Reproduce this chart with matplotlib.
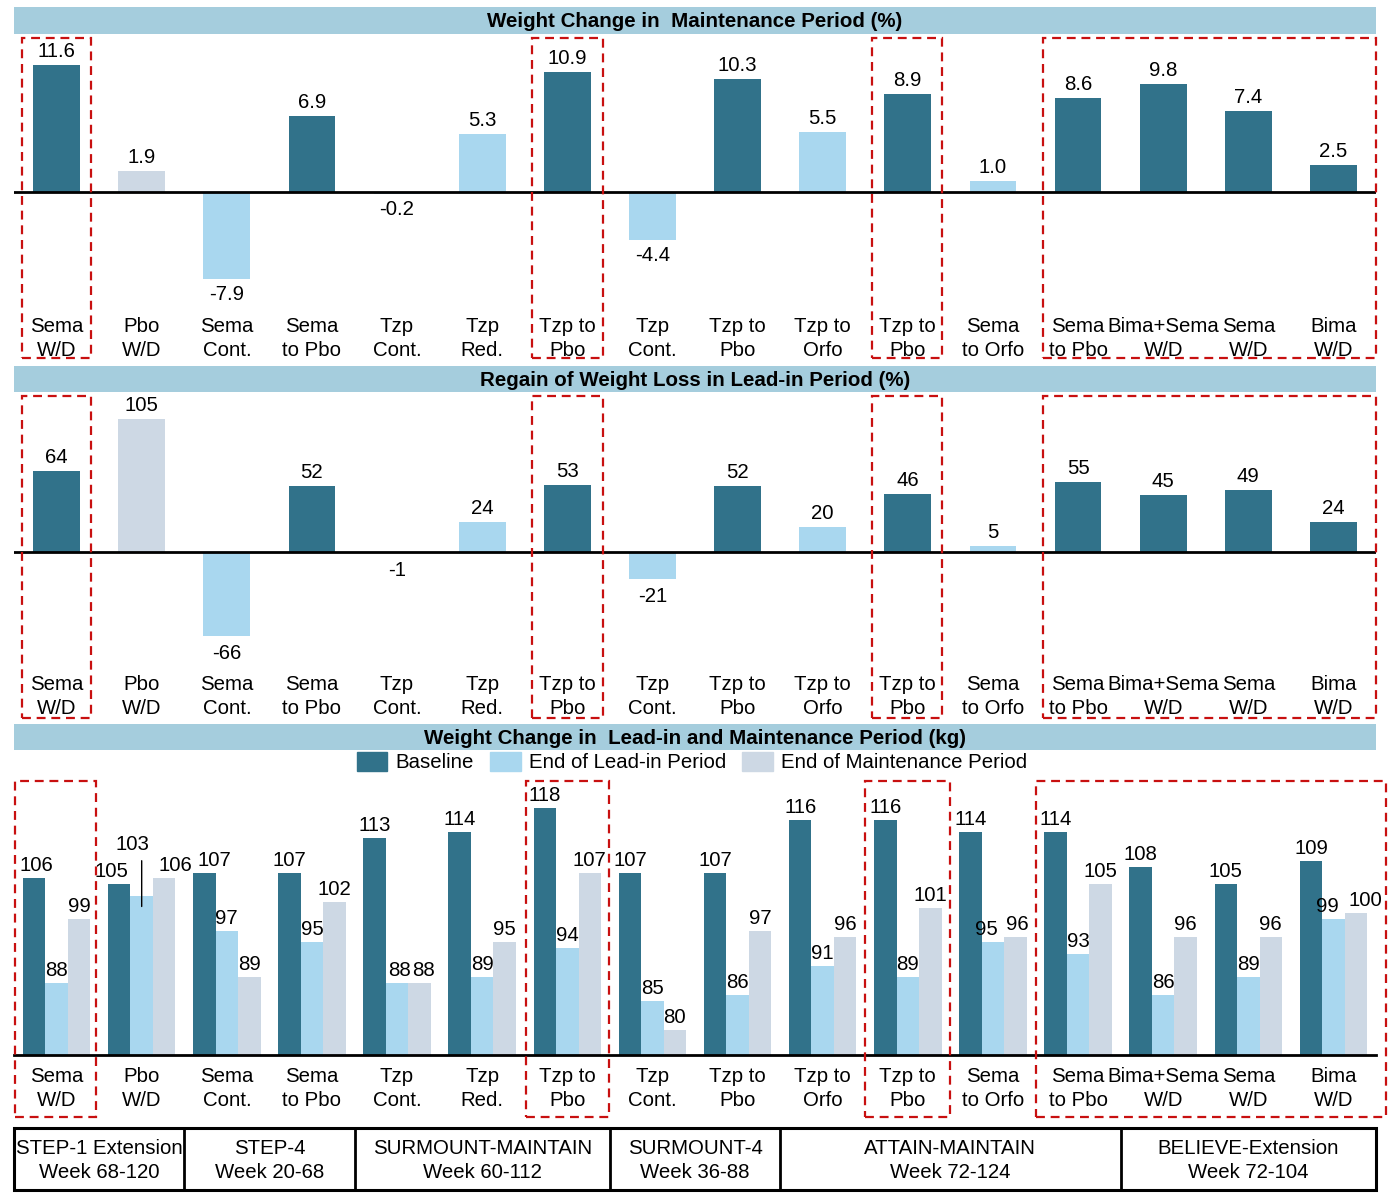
import numpy as np
import matplotlib.pyplot as plt
from matplotlib.patches import Rectangle, Patch
from matplotlib.lines import Line2D
from matplotlib.transforms import blended_transform_factory

# ---- data ----
arms = ["Sema\nW/D", "Pbo\nW/D", "Sema\nCont.", "Sema\nto Pbo", "Tzp\nCont.", "Tzp\nRed.",
        "Tzp to\nPbo", "Tzp\nCont.", "Tzp to\nPbo", "Tzp to\nOrfo", "Tzp to\nPbo",
        "Sema\nto Orfo", "Sema\nto Pbo", "Bima+Sema\nW/D", "Sema\nW/D", "Bima\nW/D"]
# bar colour class per arm: 0 = withdrawal (dark), 1 = continued (light), 2 = placebo (grey)
arm_kind = [0, 2, 1, 0, 1, 1, 0, 1, 0, 1, 0, 1, 0, 0, 0, 0]

wt_change_maint = [11.6, 1.9, -7.9, 6.9, -0.2, 5.3, 10.9, -4.4, 10.3, 5.5, 8.9, 1.0, 8.6, 9.8, 7.4, 2.5]
regain_pct = [64, 105, -66, 52, -1, 24, 53, -21, 52, 20, 46, 5, 55, 45, 49, 24]

wt_baseline = [106, 105, 107, 107, 113, 114, 118, 107, 107, 116, 116, 114, 114, 108, 105, 109]
wt_leadin = [88, 103, 97, 95, 88, 89, 94, 85, 86, 91, 89, 95, 93, 86, 89, 99]
wt_maint = [99, 106, 89, 102, 88, 95, 107, 80, 97, 96, 101, 96, 105, 96, 96, 100]

trials = ["STEP-1 Extension", "STEP-4", "SURMOUNT-MAINTAIN", "SURMOUNT-4", "ATTAIN-MAINTAIN", "BELIEVE-Extension"]
trial_weeks = ["Week 68-120", "Week 20-68", "Week 60-112", "Week 36-88", "Week 72-124", "Week 72-104"]
trial_n_arms = [2, 2, 3, 2, 4, 3]

# highlighted groups (first arm, last arm)
boxes = [(0, 0), (6, 6), (10, 10), (12, 15)]

# ---- style ----
DARK = '#31728A'
LIGHT = '#A9D7EF'
GREY = '#CDD8E4'
BAND = '#A5CDDD'
RED = '#C81010'
kind_color = [DARK, LIGHT, GREY]
FONT = 'Liberation Sans'
FS = 14.7

plt.rcParams['font.family'] = [FONT, 'DejaVu Sans']

W, H = 1390, 1196
fig = plt.figure(figsize=(W / 100, H / 100), dpi=100)


def px_axes(x0, y0, x1, y1):
    return fig.add_axes([x0 / W, 1 - y1 / H, (x1 - x0) / W, (y1 - y0) / H])


def fy(ypx):
    return 1 - ypx / H


X0, X1 = 14, 1376
n = len(arms)
x = np.arange(n)


def band(y0, y1, text):
    fig.add_artist(Rectangle((X0 / W, fy(y1)), (X1 - X0) / W, (y1 - y0) / H,
                             transform=fig.transFigure, color=BAND, lw=0))
    fig.text((X0 + X1) / 2 / W, fy((y0 + y1) / 2 + 1), text, ha='center', va='center',
             fontsize=14.8, fontweight='bold')


def setup(ax, y0px, y1px, zero_px, scale, zero_val=0):
    ax.set_xlim(-0.5, n - 0.5)
    ax.set_ylim(zero_val - (y1px - zero_px) / scale, zero_val + (zero_px - y0px) / scale)
    ax.axis('off')


def cat_labels(ax, y_line1):
    tr = blended_transform_factory(ax.transData, fig.transFigure)
    for i, lab in enumerate(arms):
        for k, part in enumerate(lab.split('\n')):
            ax.text(i, fy(y_line1 + 24 * k), part, transform=tr, ha='center', va='center',
                    fontsize=FS, clip_on=False)


def dashed_boxes(ax, y0, y1, pads):
    tr = blended_transform_factory(ax.transData, fig.transFigure)
    for (a, b), (pl, pr) in zip(boxes, pads):
        ax.add_patch(Rectangle((a - pl, fy(y1)), (b + pr) - (a - pl), (y1 - y0) / H,
                               transform=tr, fill=False, ec=RED, lw=1.6,
                               ls=(0, (4, 2.6)), clip_on=False, zorder=5))


# ---- panel 1: weight change in maintenance (%) ----
band(7, 34, "Weight Change in  Maintenance Period (%)")
ax1 = px_axes(X0, 36, X1, 360)
setup(ax1, 36, 360, 192, 10.97)
ax1.bar(x, wt_change_maint, width=0.55, color=[kind_color[k] for k in arm_kind])
ax1.axhline(0, color='black', lw=2)
for i, v in enumerate(wt_change_maint):
    ax1.annotate(f"{v:.1f}", (i, v), xytext=(0, 4 if v >= 0 else -6), textcoords='offset pixels',
                 ha='center', va='bottom' if v >= 0 else 'top', fontsize=FS)
cat_labels(ax1, 327)
box_pad12 = [(0.41, 0.41), (0.41, 0.42), (0.42, 0.40), (0.41, 0.5)]
dashed_boxes(ax1, 38, 358, box_pad12)

# ---- panel 2: regain of weight loss (%) ----
band(366, 392, "Regain of Weight Loss in Lead-in Period (%)")
ax2 = px_axes(X0, 394, X1, 718)
setup(ax2, 394, 718, 552, 1.27)
ax2.bar(x, regain_pct, width=0.55, color=[kind_color[k] for k in arm_kind])
ax2.axhline(0, color='black', lw=2)
for i, v in enumerate(regain_pct):
    ax2.annotate(f"{v}", (i, v), xytext=(0, 4 if v >= 0 else -8), textcoords='offset pixels',
                 ha='center', va='bottom' if v >= 0 else 'top', fontsize=FS)
cat_labels(ax2, 685)
dashed_boxes(ax2, 396, 718, box_pad12)

# ---- panel 3: weight (kg) ----
band(724, 750, "Weight Change in  Lead-in and Maintenance Period (kg)")
BASE = 75.7
ax3 = px_axes(X0, 752, X1, 1055)
setup(ax3, 752, 1055, 1055, 5.83, zero_val=BASE)
bw = 0.264
series = [(wt_baseline, DARK, "Baseline"), (wt_leadin, LIGHT, "End of Lead-in Period"),
          (wt_maint, GREY, "End of Maintenance Period")]
# manual label nudges in pixels (series index, arm index) -> dx
nudge = {(0, 0): 2, (0, 1): -8, (2, 1): 11, (0, 2): 10, (2, 4): 4, (1, 11): -7, (2, 11): 2,
         (1, 15): -6, (2, 15): 9, (1, 4): 2}
for s, (vals, col, lab) in enumerate(series):
    xs = x + (s - 1) * bw
    ax3.bar(xs, np.array(vals) - BASE, bottom=BASE, width=bw, color=col, label=lab)
    for i, v in enumerate(vals):
        if (s, i) == (1, 1):
            continue
        ax3.annotate(f"{v}", (xs[i], v), xytext=(nudge.get((s, i), 0), 3), textcoords='offset pixels',
                     ha='center', va='bottom', fontsize=FS)
# Pbo W/D lead-in label raised with a leader line
ax3.annotate(f"{wt_leadin[1]}", (1, wt_leadin[1]), xytext=(-9, 42), textcoords='offset pixels',
             ha='center', va='bottom', fontsize=FS)
ax3.annotate("", (1, wt_leadin[1] - 2.3), xytext=(1, wt_leadin[1] + 6.5),
             arrowprops=dict(arrowstyle='-', color='black', lw=1))
ax3.axhline(BASE, color='black', lw=2, clip_on=False)
cat_labels(ax3, 1077)
dashed_boxes(ax3, 781, 1117, [(0.49, 0.46), (0.48, 0.49), (0.5, 0.49), (0.5, 0.62)])

handles = [Patch(color=c) for _, c, _ in series]
fig.legend(handles, [l for _, _, l in series], loc='center', bbox_to_anchor=(692 / W, fy(762)),
           ncol=3, frameon=False, fontsize=FS, handlelength=1.5, handleheight=1.1,
           handletextpad=0.4, columnspacing=0.8, borderpad=0)

# ---- trial table ----
tr3 = blended_transform_factory(ax3.transData, fig.transFigure)
ty0, ty1 = 1128, 1190
fig.add_artist(Rectangle((X0 / W, fy(ty1)), (X1 - X0) / W, (ty1 - ty0) / H,
                         transform=fig.transFigure, fill=False, ec='black', lw=2.2))
start = 0
for name, wk, k in zip(trials, trial_weeks, trial_n_arms):
    mid = start + (k - 1) / 2
    ax3.text(mid, fy(1148), name, transform=tr3, ha='center', va='center', fontsize=FS, clip_on=False)
    ax3.text(mid, fy(1172), wk, transform=tr3, ha='center', va='center', fontsize=FS, clip_on=False)
    start += k
    if start < n:
        ax3.add_line(Line2D([start - 0.5, start - 0.5], [fy(ty0), fy(ty1)], transform=tr3,
                            color='black', lw=2, clip_on=False))

fig.savefig('out.png', dpi=100)
